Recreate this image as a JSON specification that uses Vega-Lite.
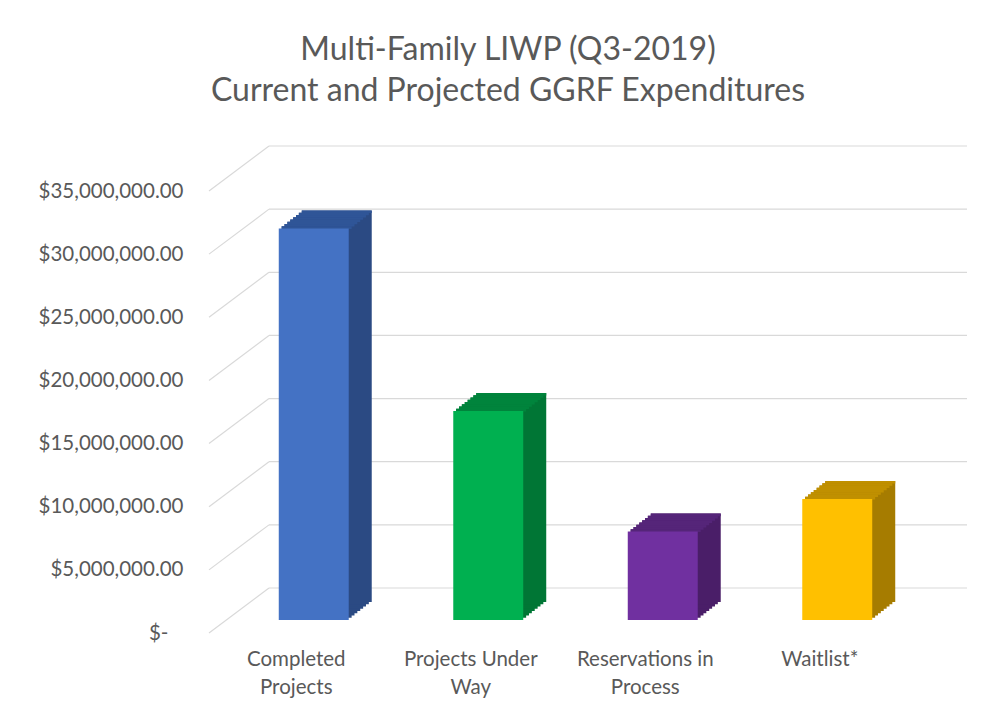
{
  "$schema": "https://vega.github.io/schema/vega-lite/v6.json",
  "autosize": "none",
  "width": 698,
  "height": 442,
  "padding": {"left": 209, "top": 191, "right": 94, "bottom": 90},
  "background": "white",
  "config": {"view": {"stroke": null}, "font": "Lato", "axis": {"grid": false, "domain": false, "ticks": false}},
  "title": {
    "text": ["Multi-Family LIWP (Q3-2019)", "Current and Projected GGRF Expenditures"],
    "font": "Lato", "fontSize": 32, "fontWeight": "normal", "color": "#595959",
    "lineHeight": 41, "anchor": "middle", "dx": -50, "offset": 37
  },
  "datasets": {
    "bars": [
      {"category": "Completed Projects", "value": 31000000},
      {"category": "Projects Under Way", "value": 16550000},
      {"category": "Reservations in Process", "value": 7000000},
      {"category": "Waitlist*", "value": 9580000}
    ],
    "grid": [
      {"v": 0}, {"v": 5000000}, {"v": 10000000}, {"v": 15000000},
      {"v": 20000000}, {"v": 25000000}, {"v": 30000000}, {"v": 35000000}
    ]
  },
  "layer": [
    {
      "data": {"name": "grid"},
      "mark": {"type": "rule", "color": "#D9D9D9", "strokeWidth": 1.2, "xOffset": 60, "x2Offset": 60, "yOffset": -45},
      "encoding": {
        "x": {"datum": "Completed Projects", "type": "nominal", "bandPosition": 0, "title": null},
        "x2": {"datum": "Waitlist*", "bandPosition": 1},
        "y": {"field": "v", "type": "quantitative", "scale": {"domain": [0, 35000000], "nice": false, "zero": true}, "title": null}
      }
    },
    {
      "data": {"name": "grid"},
      "mark": {"type": "rule", "color": "#D9D9D9", "strokeWidth": 1.2, "x2Offset": 60, "y2Offset": -45},
      "encoding": {
        "x": {"datum": "Completed Projects", "type": "nominal", "bandPosition": 0, "title": null},
        "x2": {"datum": "Completed Projects", "bandPosition": 0},
        "y": {"field": "v", "type": "quantitative", "title": null},
        "y2": {"field": "v"}
      }
    },
    {"data": {"name": "bars"}, "mark": {"type": "bar", "width": {"band": 0.401}, "xOffset": 20.4, "yOffset": -15.25, "y2Offset": -15.25},
     "encoding": {"x": {"field": "category", "type": "nominal", "sort": null, "title": null}, "y": {"field": "value", "type": "quantitative", "title": null},
      "color": {"condition": [{"test": "datum.category === 'Completed Projects'", "value": "#2B4A83"}, {"test": "datum.category === 'Projects Under Way'", "value": "#007635"}, {"test": "datum.category === 'Reservations in Process'", "value": "#4A1E68"}], "value": "#A67C00"}}},
    {"data": {"name": "bars"}, "mark": {"type": "bar", "width": {"band": 0.401}, "xOffset": 23.25, "yOffset": -17.5, "y2Offset": -17.5},
     "encoding": {"x": {"field": "category", "type": "nominal", "sort": null, "title": null}, "y": {"field": "value", "type": "quantitative", "title": null},
      "color": {"condition": [{"test": "datum.category === 'Completed Projects'", "value": "#2B4A83"}, {"test": "datum.category === 'Projects Under Way'", "value": "#007635"}, {"test": "datum.category === 'Reservations in Process'", "value": "#4A1E68"}], "value": "#A67C00"}}},
    {"data": {"name": "bars"}, "mark": {"type": "bar", "width": {"band": 0.401}, "xOffset": 26.1, "yOffset": -19.75, "y2Offset": -19.75},
     "encoding": {"x": {"field": "category", "type": "nominal", "sort": null, "title": null}, "y": {"field": "value", "type": "quantitative", "title": null},
      "color": {"condition": [{"test": "datum.category === 'Completed Projects'", "value": "#2B4A83"}, {"test": "datum.category === 'Projects Under Way'", "value": "#007635"}, {"test": "datum.category === 'Reservations in Process'", "value": "#4A1E68"}], "value": "#A67C00"}}},
    {"data": {"name": "bars"}, "mark": {"type": "bar", "width": {"band": 0.401}, "xOffset": 29, "yOffset": -22, "y2Offset": -22},
     "encoding": {"x": {"field": "category", "type": "nominal", "sort": null, "title": null}, "y": {"field": "value", "type": "quantitative", "title": null},
      "color": {"condition": [{"test": "datum.category === 'Completed Projects'", "value": "#2B4A83"}, {"test": "datum.category === 'Projects Under Way'", "value": "#007635"}, {"test": "datum.category === 'Reservations in Process'", "value": "#4A1E68"}], "value": "#A67C00"}}},
    {"data": {"name": "bars"}, "mark": {"type": "bar", "width": {"band": 0.401}, "xOffset": 31.9, "yOffset": -24.25, "y2Offset": -24.25},
     "encoding": {"x": {"field": "category", "type": "nominal", "sort": null, "title": null}, "y": {"field": "value", "type": "quantitative", "title": null},
      "color": {"condition": [{"test": "datum.category === 'Completed Projects'", "value": "#2B4A83"}, {"test": "datum.category === 'Projects Under Way'", "value": "#007635"}, {"test": "datum.category === 'Reservations in Process'", "value": "#4A1E68"}], "value": "#A67C00"}}},
    {"data": {"name": "bars"}, "mark": {"type": "bar", "width": {"band": 0.401}, "xOffset": 34.75, "yOffset": -26.5, "y2Offset": -26.5},
     "encoding": {"x": {"field": "category", "type": "nominal", "sort": null, "title": null}, "y": {"field": "value", "type": "quantitative", "title": null},
      "color": {"condition": [{"test": "datum.category === 'Completed Projects'", "value": "#2B4A83"}, {"test": "datum.category === 'Projects Under Way'", "value": "#007635"}, {"test": "datum.category === 'Reservations in Process'", "value": "#4A1E68"}], "value": "#A67C00"}}},
    {"data": {"name": "bars"}, "mark": {"type": "bar", "width": {"band": 0.401}, "xOffset": 37.6, "yOffset": -28.75, "y2Offset": -28.75},
     "encoding": {"x": {"field": "category", "type": "nominal", "sort": null, "title": null}, "y": {"field": "value", "type": "quantitative", "title": null},
      "color": {"condition": [{"test": "datum.category === 'Completed Projects'", "value": "#2B4A83"}, {"test": "datum.category === 'Projects Under Way'", "value": "#007635"}, {"test": "datum.category === 'Reservations in Process'", "value": "#4A1E68"}], "value": "#A67C00"}}},
    {"data": {"name": "bars"}, "mark": {"type": "bar", "width": {"band": 0.401}, "xOffset": 40.5, "yOffset": -31, "y2Offset": -31},
     "encoding": {"x": {"field": "category", "type": "nominal", "sort": null, "title": null}, "y": {"field": "value", "type": "quantitative", "title": null},
      "color": {"condition": [{"test": "datum.category === 'Completed Projects'", "value": "#2B4A83"}, {"test": "datum.category === 'Projects Under Way'", "value": "#007635"}, {"test": "datum.category === 'Reservations in Process'", "value": "#4A1E68"}], "value": "#A67C00"}}},
    {"data": {"name": "bars"}, "mark": {"type": "bar", "width": {"band": 0.401}, "xOffset": 20.4, "yOffset": -15.25, "y2Offset": -12.6},
     "encoding": {"x": {"field": "category", "type": "nominal", "sort": null, "title": null}, "y": {"field": "value", "type": "quantitative", "title": null}, "y2": {"field": "value"},
      "color": {"condition": [{"test": "datum.category === 'Completed Projects'", "value": "#2F5597"}, {"test": "datum.category === 'Projects Under Way'", "value": "#00843C"}, {"test": "datum.category === 'Reservations in Process'", "value": "#552579"}], "value": "#C09000"}}},
    {"data": {"name": "bars"}, "mark": {"type": "bar", "width": {"band": 0.401}, "xOffset": 23.25, "yOffset": -17.5, "y2Offset": -14.9},
     "encoding": {"x": {"field": "category", "type": "nominal", "sort": null, "title": null}, "y": {"field": "value", "type": "quantitative", "title": null}, "y2": {"field": "value"},
      "color": {"condition": [{"test": "datum.category === 'Completed Projects'", "value": "#2F5597"}, {"test": "datum.category === 'Projects Under Way'", "value": "#00843C"}, {"test": "datum.category === 'Reservations in Process'", "value": "#552579"}], "value": "#C09000"}}},
    {"data": {"name": "bars"}, "mark": {"type": "bar", "width": {"band": 0.401}, "xOffset": 26.1, "yOffset": -19.75, "y2Offset": -17.15},
     "encoding": {"x": {"field": "category", "type": "nominal", "sort": null, "title": null}, "y": {"field": "value", "type": "quantitative", "title": null}, "y2": {"field": "value"},
      "color": {"condition": [{"test": "datum.category === 'Completed Projects'", "value": "#2F5597"}, {"test": "datum.category === 'Projects Under Way'", "value": "#00843C"}, {"test": "datum.category === 'Reservations in Process'", "value": "#552579"}], "value": "#C09000"}}},
    {"data": {"name": "bars"}, "mark": {"type": "bar", "width": {"band": 0.401}, "xOffset": 29, "yOffset": -22, "y2Offset": -19.4},
     "encoding": {"x": {"field": "category", "type": "nominal", "sort": null, "title": null}, "y": {"field": "value", "type": "quantitative", "title": null}, "y2": {"field": "value"},
      "color": {"condition": [{"test": "datum.category === 'Completed Projects'", "value": "#2F5597"}, {"test": "datum.category === 'Projects Under Way'", "value": "#00843C"}, {"test": "datum.category === 'Reservations in Process'", "value": "#552579"}], "value": "#C09000"}}},
    {"data": {"name": "bars"}, "mark": {"type": "bar", "width": {"band": 0.401}, "xOffset": 31.9, "yOffset": -24.25, "y2Offset": -21.65},
     "encoding": {"x": {"field": "category", "type": "nominal", "sort": null, "title": null}, "y": {"field": "value", "type": "quantitative", "title": null}, "y2": {"field": "value"},
      "color": {"condition": [{"test": "datum.category === 'Completed Projects'", "value": "#2F5597"}, {"test": "datum.category === 'Projects Under Way'", "value": "#00843C"}, {"test": "datum.category === 'Reservations in Process'", "value": "#552579"}], "value": "#C09000"}}},
    {"data": {"name": "bars"}, "mark": {"type": "bar", "width": {"band": 0.401}, "xOffset": 34.75, "yOffset": -26.5, "y2Offset": -23.9},
     "encoding": {"x": {"field": "category", "type": "nominal", "sort": null, "title": null}, "y": {"field": "value", "type": "quantitative", "title": null}, "y2": {"field": "value"},
      "color": {"condition": [{"test": "datum.category === 'Completed Projects'", "value": "#2F5597"}, {"test": "datum.category === 'Projects Under Way'", "value": "#00843C"}, {"test": "datum.category === 'Reservations in Process'", "value": "#552579"}], "value": "#C09000"}}},
    {"data": {"name": "bars"}, "mark": {"type": "bar", "width": {"band": 0.401}, "xOffset": 37.6, "yOffset": -28.75, "y2Offset": -26.15},
     "encoding": {"x": {"field": "category", "type": "nominal", "sort": null, "title": null}, "y": {"field": "value", "type": "quantitative", "title": null}, "y2": {"field": "value"},
      "color": {"condition": [{"test": "datum.category === 'Completed Projects'", "value": "#2F5597"}, {"test": "datum.category === 'Projects Under Way'", "value": "#00843C"}, {"test": "datum.category === 'Reservations in Process'", "value": "#552579"}], "value": "#C09000"}}},
    {"data": {"name": "bars"}, "mark": {"type": "bar", "width": {"band": 0.401}, "xOffset": 40.5, "yOffset": -31, "y2Offset": -28.4},
     "encoding": {"x": {"field": "category", "type": "nominal", "sort": null, "title": null}, "y": {"field": "value", "type": "quantitative", "title": null}, "y2": {"field": "value"},
      "color": {"condition": [{"test": "datum.category === 'Completed Projects'", "value": "#2F5597"}, {"test": "datum.category === 'Projects Under Way'", "value": "#00843C"}, {"test": "datum.category === 'Reservations in Process'", "value": "#552579"}], "value": "#C09000"}}},
    {"data": {"name": "bars"}, "mark": {"type": "bar", "width": {"band": 0.401}, "xOffset": 17.5, "yOffset": -13, "y2Offset": -13},
     "encoding": {
      "x": {"field": "category", "type": "nominal", "sort": null, "title": null,
        "scale": {"domain": ["Completed Projects", "Projects Under Way", "Reservations in Process", "Waitlist*"], "paddingInner": 0, "paddingOuter": 0},
        "axis": {"title": null, "domain": false, "ticks": false, "labelAngle": 0, "labelAlign": "center", "labelFlush": false, "bandPosition": 0.5, "labelPadding": 16, "labelFont": "Lato", "labelFontSize": 20.5, "labelColor": "#595959", "labelLineHeight": 28, "labelBaseline": "top",
          "labelExpr": "datum.label == 'Completed Projects' ? ['Completed', 'Projects'] : datum.label == 'Projects Under Way' ? ['Projects Under', 'Way'] : datum.label == 'Reservations in Process' ? ['Reservations in', 'Process'] : datum.label"}},
      "y": {"field": "value", "type": "quantitative", "title": null,
        "axis": {"title": null, "domain": false, "ticks": false, "grid": false, "labelPadding": 26, "labelFont": "Lato", "labelFontSize": 20.5, "labelColor": "#595959",
          "values": [0, 5000000, 10000000, 15000000, 20000000, 25000000, 30000000, 35000000],
          "labelExpr": "datum.value == 0 ? '$-\u2800' : '$' + format(datum.value, ',.2f')"}},
      "color": {"condition": [{"test": "datum.category === 'Completed Projects'", "value": "#4472C4"}, {"test": "datum.category === 'Projects Under Way'", "value": "#00B050"}, {"test": "datum.category === 'Reservations in Process'", "value": "#7030A0"}], "value": "#FFC000"}}}
  ]
}
